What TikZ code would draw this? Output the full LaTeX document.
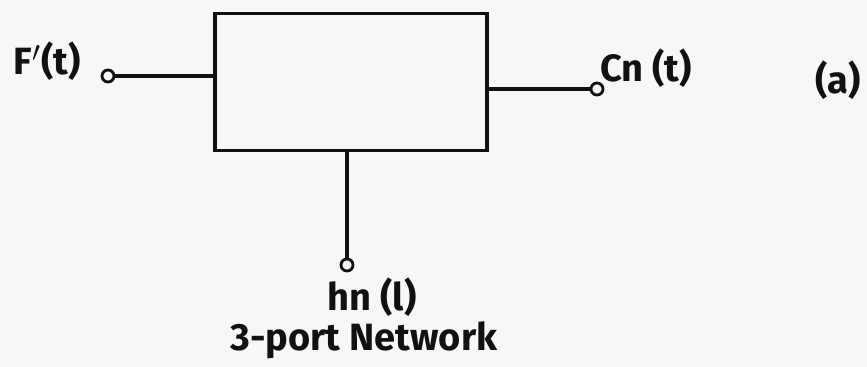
\documentclass[tikz,border=0pt]{standalone}
\usepackage{fontspec}
\setmainfont{Fira Sans}
\usepackage{xcolor}
\usepackage{tikz}
\usetikzlibrary{calc,positioning}
\definecolor{inkc}{HTML}{111111}
\definecolor{paperc}{HTML}{F7F7F5}
\tikzset{
  wire/.style={line width=1.7pt,inkc},
  netbox/.style={draw=inkc,line width=1.7pt,minimum width=136pt,minimum height=68.5pt,inner sep=0pt},
  port/.style={circle,draw=inkc,line width=1.4pt,fill=paperc,minimum size=6pt,inner sep=0pt},
  lbl/.style={inkc,font=\fontsize{19}{21}\selectfont\bfseries}
}

\begin{document}
\begin{tikzpicture}[x=0.5pt,y=-0.5pt]
\fill[paperc] (0,0) rectangle (867,367);
\useasboundingbox (0,0) rectangle (867,367);
\node[netbox] (net) at (351,82) {};
\node[port] (pin) at (108,76) {};
\node[port] (pout) at (597,89) {};
\node[port] (ph) at (347,265) {};
\draw[wire] (pin) -- (net.west |- pin);
\draw[wire] (net.east |- pout) -- (pout);
\draw[wire] (net.south -| ph) -- (ph);
\node[lbl] (lf) at (47,61) {F$'$(t)};
\node[lbl] (lc) at (646,68) {Cn (t)};
\node[lbl] (la) at (838,80) {(a)};
\node[lbl] (lh) at (372,297) {hn (l)};
\node[lbl] (lnet) at (364,340) {3-port Network};
\end{tikzpicture}
\end{document}
